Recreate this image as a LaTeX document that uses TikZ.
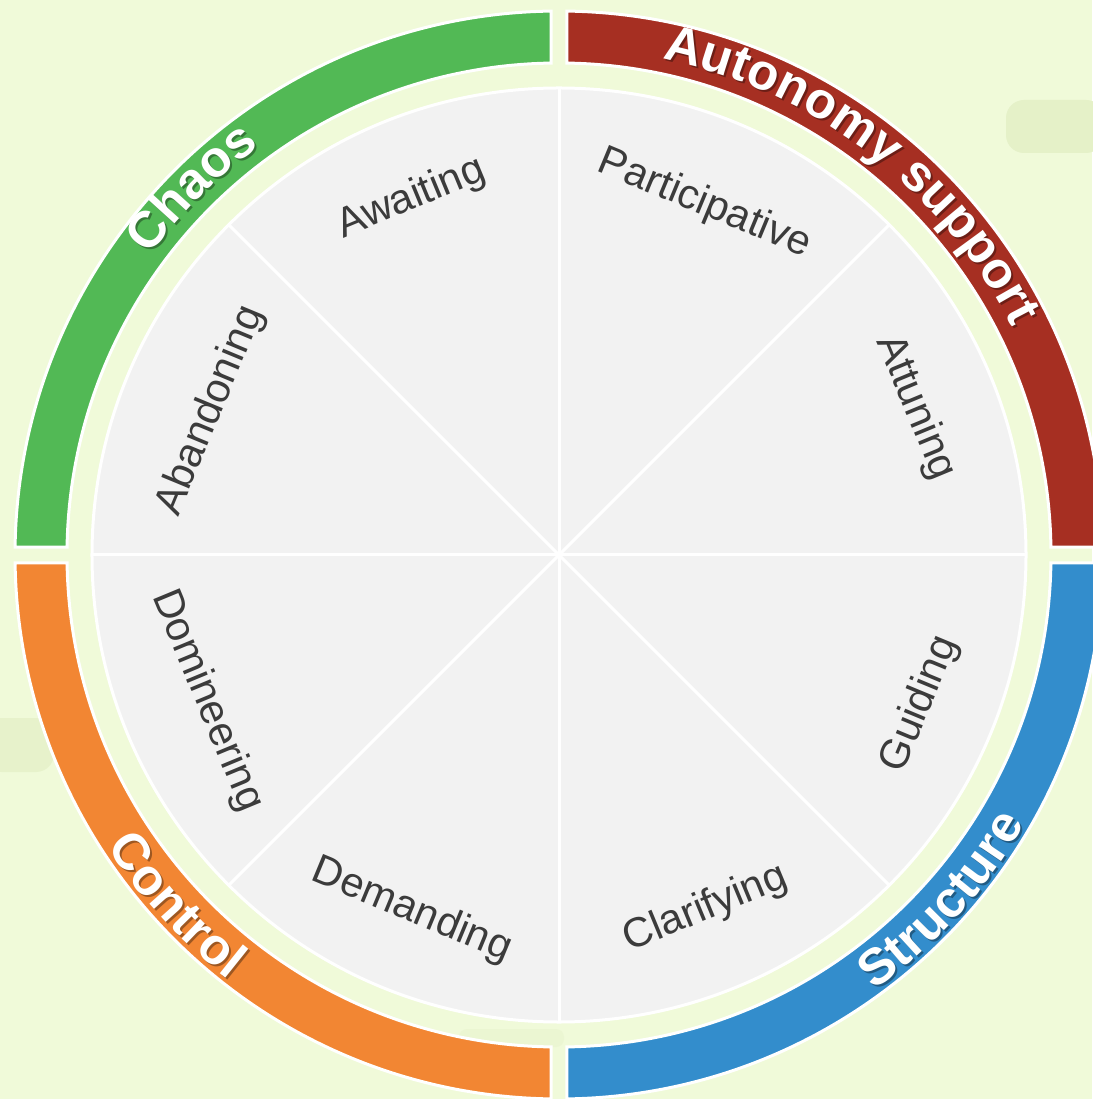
\documentclass[tikz,border=0pt]{standalone}
\usepackage{fontspec}
\setmainfont{Liberation Sans}
\usetikzlibrary{decorations.text}

\definecolor{paper}{HTML}{F0FAD9}
\definecolor{smudge}{HTML}{E5F1C8}
\definecolor{wedge}{HTML}{F2F2F2}
\definecolor{ink}{HTML}{3B3B3B}
\definecolor{chaosgreen}{HTML}{52B955}
\definecolor{autonomyred}{HTML}{A62F22}
\definecolor{structureblue}{HTML}{338DCC}
\definecolor{controlorange}{HTML}{F28633}

\tikzset{
  quarter/.style={fill=#1, draw=white, line width=3},
  facet/.style={text=ink, font=\fontsize{41.5}{48}\selectfont, inner sep=0},
  ringlabel/.style={decorate, decoration={text along path, text align=center, text color=#1}}
}

\begin{document}
\begin{tikzpicture}[x=1pt,y=1pt]
\useasboundingbox (-559,-544) rectangle (533,555);
\fill[paper] (-559,-544) rectangle (533,555);
\fill[smudge, rounded corners=18] (447,402) rectangle (545,455);
\fill[smudge, opacity=.8, rounded corners=18] (-575,-217) rectangle (-505,-163);
\fill[smudge, opacity=.4, rounded corners=8] (-100,-492) rectangle (5,-474);

% outer ring, one quarter per style
\foreach \a/\c in {0/autonomyred,90/chaosgreen,180/controlorange,270/structureblue}
  \draw[quarter=\c] ({\a+acos(8/544)}:544)
    arc[start angle={\a+acos(8/544)}, end angle={\a+asin(8/544)}, radius=544]
    -- ({\a+asin(8/492)}:492)
    arc[start angle={\a+asin(8/492)}, end angle={\a+acos(8/492)}, radius=492] -- cycle;

% inner wheel
\coordinate (hub) at (0,0);
\fill[wedge] (hub) circle[radius=467];
\foreach \a in {0,45,...,315}
  \draw[white, line width=3] (hub) -- (\a:467);
\draw[white, line width=3] (hub) circle[radius=467];

\node[facet, rotate=22.5]  (awaiting)      at (112.5:386)  {Awaiting};
\node[facet, rotate=-22.5] (participative) at (67.5:380)   {Participative};
\node[facet, rotate=-67.5] (attuning)      at (22.5:386)   {Attuning};
\node[facet, rotate=67.5]  (guiding)       at (-22.5:391)  {Guiding};
\node[facet, rotate=22.5]  (clarifying)    at (-67.5:383)  {Clarifying};
\node[facet, rotate=-22.5] (demanding)     at (-112.5:385) {Demanding};
\node[facet, rotate=-67.5] (domineering)   at (-157.5:381) {Domineering};
\node[facet, rotate=67.5]  (abandoning)    at (157.5:377)  {Abandoning};

% ring titles, shadow first
\foreach \tone/\dx/\op in {black/2/0.35, white/0/1}{
\begin{scope}[shift={(\dx,-\dx)}, opacity=\op]
\path[ringlabel=\tone, decoration={text={|\bfseries\fontsize{51}{60}\selectfont|Chaos}}]
  (180:507) arc[start angle=180, end angle=90, radius=507];
\path[ringlabel=\tone, decoration={text={|\bfseries\fontsize{51}{60}\selectfont|Autonomy support}}]
  (90:507) arc[start angle=90, end angle=15, radius=507];
\path[ringlabel=\tone, decoration={text={|\bfseries\fontsize{51}{60}\selectfont|Structure}}]
  (-84:538) arc[start angle=-84, end angle=0, radius=538];
\path[ringlabel=\tone, decoration={text={|\bfseries\fontsize{51}{60}\selectfont|Control}}]
  (-180:538) arc[start angle=-180, end angle=-95, radius=538];
\end{scope}
}
\end{tikzpicture}
\end{document}
